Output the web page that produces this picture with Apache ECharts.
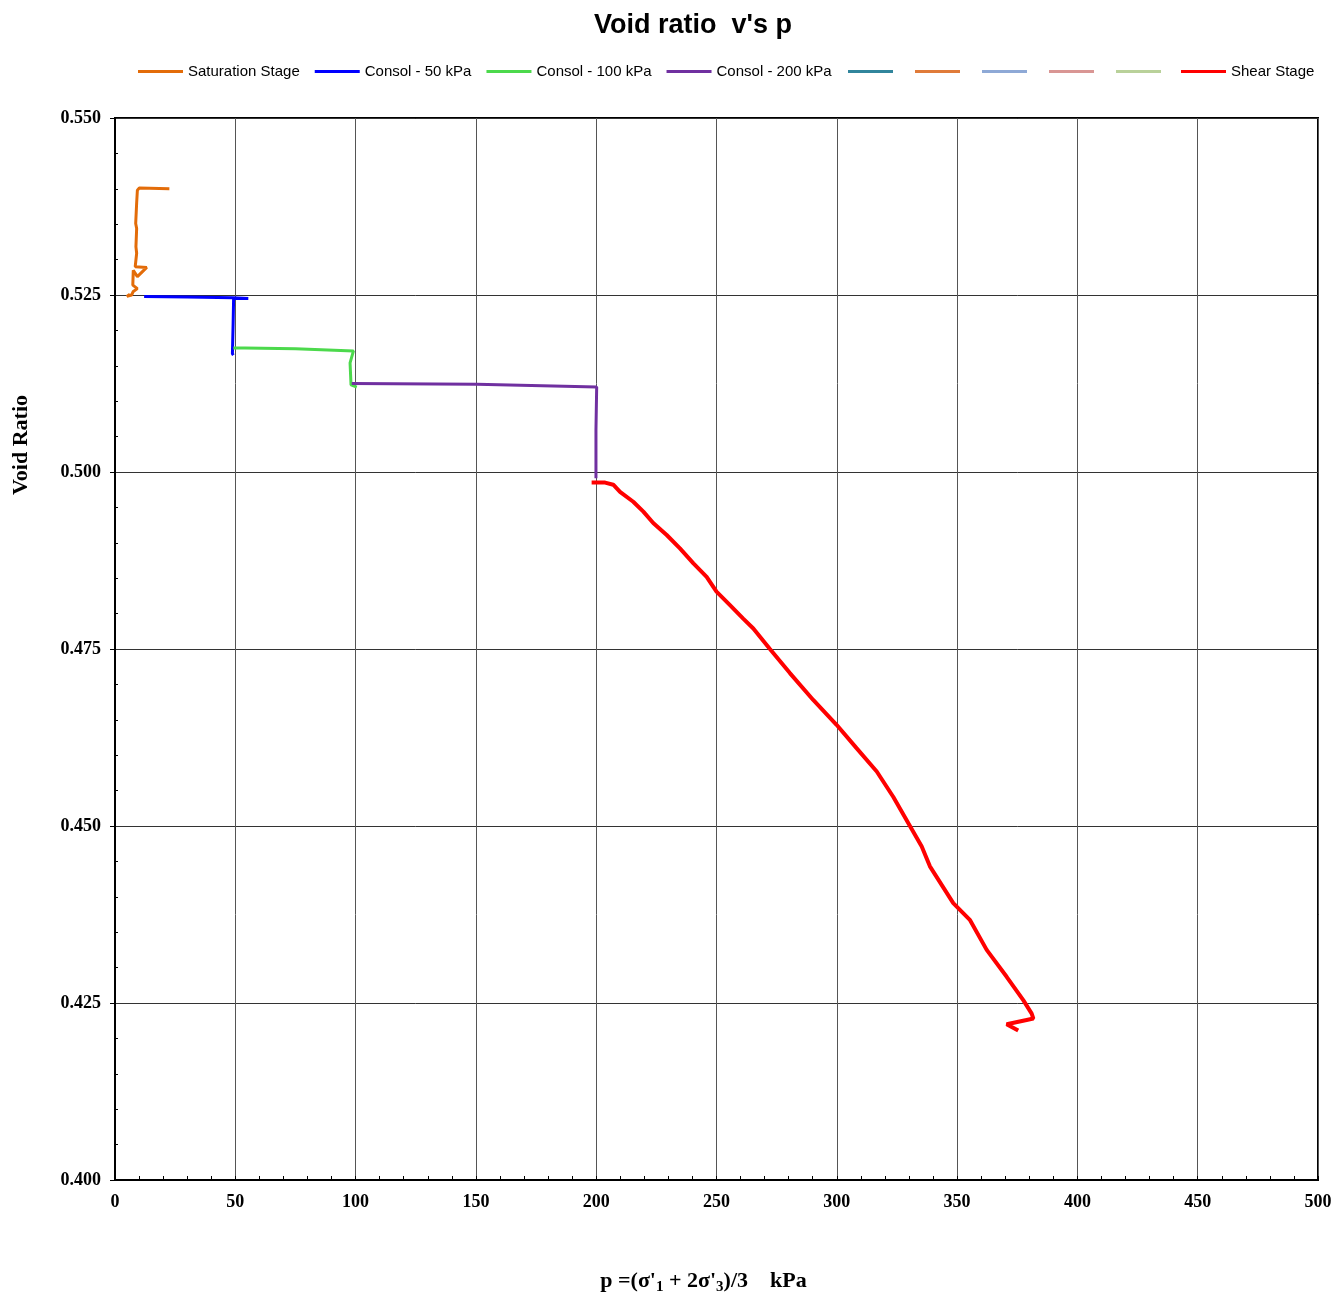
<!DOCTYPE html>
<html><head><meta charset="utf-8">
<script src="https://cdn.jsdelivr.net/npm/echarts@6/dist/echarts.min.js"></script>
<style>html,body{margin:0;padding:0;background:#fff}#c{width:1333px;height:1292px}</style>
</head><body><div id="c"></div>
<script>
// Saturation stage [p, e]
const saturation = [[22.6,0.5400],[10.1,0.5401],[9.3,0.5398],[9.0,0.5380],[8.6,0.5351],[9.0,0.5344],[8.7,0.5318],[9.0,0.5309],[8.4,0.5290],[13.2,0.5289],[9.3,0.5276],[7.6,0.5285],[7.4,0.5264],[9.3,0.5259],[7.6,0.5255],[6.9,0.5250],[4.9,0.5248],[6.2,0.5251]];
const consol50 = [[12.1,0.5248],[30,0.5247],[49.0,0.5246],[55.4,0.5245],[49.3,0.5245],[49.1,0.5210],[48.8,0.5167],[49.2,0.5165]];
const consol100 = [[49.2,0.5175],[54.0,0.5175],[75,0.5174],[99.1,0.5171],[97.7,0.5154],[98.1,0.5123],[100.5,0.5120]];
const consol200 = [[98.4,0.5125],[150.3,0.5124],[200.2,0.5120],[199.9,0.5059],[199.9,0.4991]];
const shear = [[198.1,0.4985],[203.7,0.4985],[207.1,0.4982],[209.9,0.4972],[215.4,0.4958],[219.6,0.4944],[223.7,0.4928],[229.3,0.4911],[234.8,0.4892],[240.4,0.4871],[245.9,0.4852],[250.0,0.4831],[255.6,0.4812],[261.1,0.4793],[265.3,0.4779],[272.2,0.4750],[280.5,0.4716],[290.2,0.4678],[299.9,0.4643],[308.2,0.4610],[316.6,0.4577],[323.5,0.4541],[330.4,0.4500],[335.3,0.4471],[338.7,0.4443],[348.4,0.4391],[355.4,0.4367],[362.3,0.4325],[370.6,0.4287],[377.5,0.4254],[381.0,0.4235],[381.7,0.4228],[378.9,0.4226],[370.6,0.4220],[371.3,0.4218],[375.4,0.4211]];
const seriesNames = ['Saturation Stage','Consol - 50 kPa','Consol - 100 kPa','Consol - 200 kPa',' ','  ','   ','    ','     ','Shear Stage'];
const seriesColors = ['#E36C09','#0000FF','#4CD94C','#7030A0','#31859C','#E07B39','#8EA9D6','#D99694','#B9D19A','#FF0000'];
const seriesData = [saturation, consol50, consol100, consol200, [], [], [], [], [], shear];
const xTicks = {min:0, max:500, interval:50};
const yTicks = {min:0.400, max:0.550, interval:0.025};

const chart = echarts.init(document.getElementById('c'), null, {renderer:'canvas'});
const serif = '"Liberation Serif","Times New Roman",serif';
const sans = '"Liberation Sans",Arial,sans-serif';
const legendBase = {top:64, icon:'rect', itemWidth:45, itemHeight:3, padding:0,
  textStyle:{fontFamily:sans, fontSize:15, color:'#000'},
  formatter: n => n.trim() === '' ? '' : n};
const legItem = i => ({name:seriesNames[i], itemStyle:{color:seriesColors[i]}});
chart.setOption({
  animation:false,
  backgroundColor:'#fff',
  title:{text:"Void ratio  v's p", left:688, textAlign:'center', top:7,
    textStyle:{fontFamily:sans, fontWeight:'bold', fontSize:27, color:'#000'}},
  legend:[
    Object.assign({}, legendBase, {left:138, itemGap:15, data:[0,1,2,3].map(legItem)}),
    Object.assign({}, legendBase, {left:848, top:70, itemGap:22, data:[4,5,6,7,8].map(legItem)}),
    Object.assign({}, legendBase, {left:1181, data:[9].map(legItem)})
  ],
  grid:{left:115, top:118, right:15, bottom:112, show:true, borderColor:'#000', borderWidth:2,
    outerBoundsMode:'none', containLabel:false},
  xAxis:{type:'value', min:xTicks.min, max:xTicks.max, interval:xTicks.interval,
    axisLine:{lineStyle:{color:'#000', width:2}},
    axisTick:{show:true, inside:true, length:4, lineStyle:{color:'#000'}},
    minorTick:{show:true, splitNumber:5, length:4, lineStyle:{color:'#000'}},
    splitLine:{show:true, lineStyle:{color:'#555', width:1}},
    axisLabel:{fontFamily:serif, fontWeight:'bold', fontSize:18, color:'#000', margin:13},
    name:"{a|p =(σ'}{s|1}{a| + 2σ'}{s|3}{a|)/3    kPa}", nameLocation:'middle', nameGap:88,
    nameTextStyle:{padding:[0,26,0,0], rich:{
      a:{fontFamily:serif, fontWeight:'bold', fontSize:22, color:'#000'},
      s:{fontFamily:serif, fontWeight:'bold', fontSize:15, color:'#000', verticalAlign:'bottom', padding:[12,0,0,0]}}}},
  yAxis:[{type:'value', min:yTicks.min, max:yTicks.max, interval:yTicks.interval,
    axisLine:{lineStyle:{color:'#000', width:2}},
    axisTick:{show:true, inside:false, length:5, lineStyle:{color:'#000'}},
    splitLine:{show:true, lineStyle:{color:'#333', width:1}},
    axisLabel:{fontFamily:serif, fontWeight:'bold', fontSize:18, color:'#000', margin:14,
      formatter: v => v.toFixed(3)}},
   {type:'value', position:'left', min:yTicks.min, max:yTicks.max, interval:yTicks.interval,
    axisLine:{show:false}, axisLabel:{show:false}, splitLine:{show:false},
    axisTick:{show:false, inside:true},
    minorTick:{show:true, splitNumber:5, length:3, lineStyle:{color:'#000'}}}],
  graphic:[{type:'text', left:10, top:395, rotation:Math.PI/2,
    style:{text:'Void Ratio', fontFamily:serif, fontWeight:'bold', fontSize:22, fill:'#000'}}],
  series: seriesNames.map((n,i)=>({name:n, type:'line', data:seriesData[i], symbol:'none',
    smooth:false, lineStyle:{color:seriesColors[i], width:i===9?4:3}, itemStyle:{color:seriesColors[i]}}))
});
</script></body></html>
